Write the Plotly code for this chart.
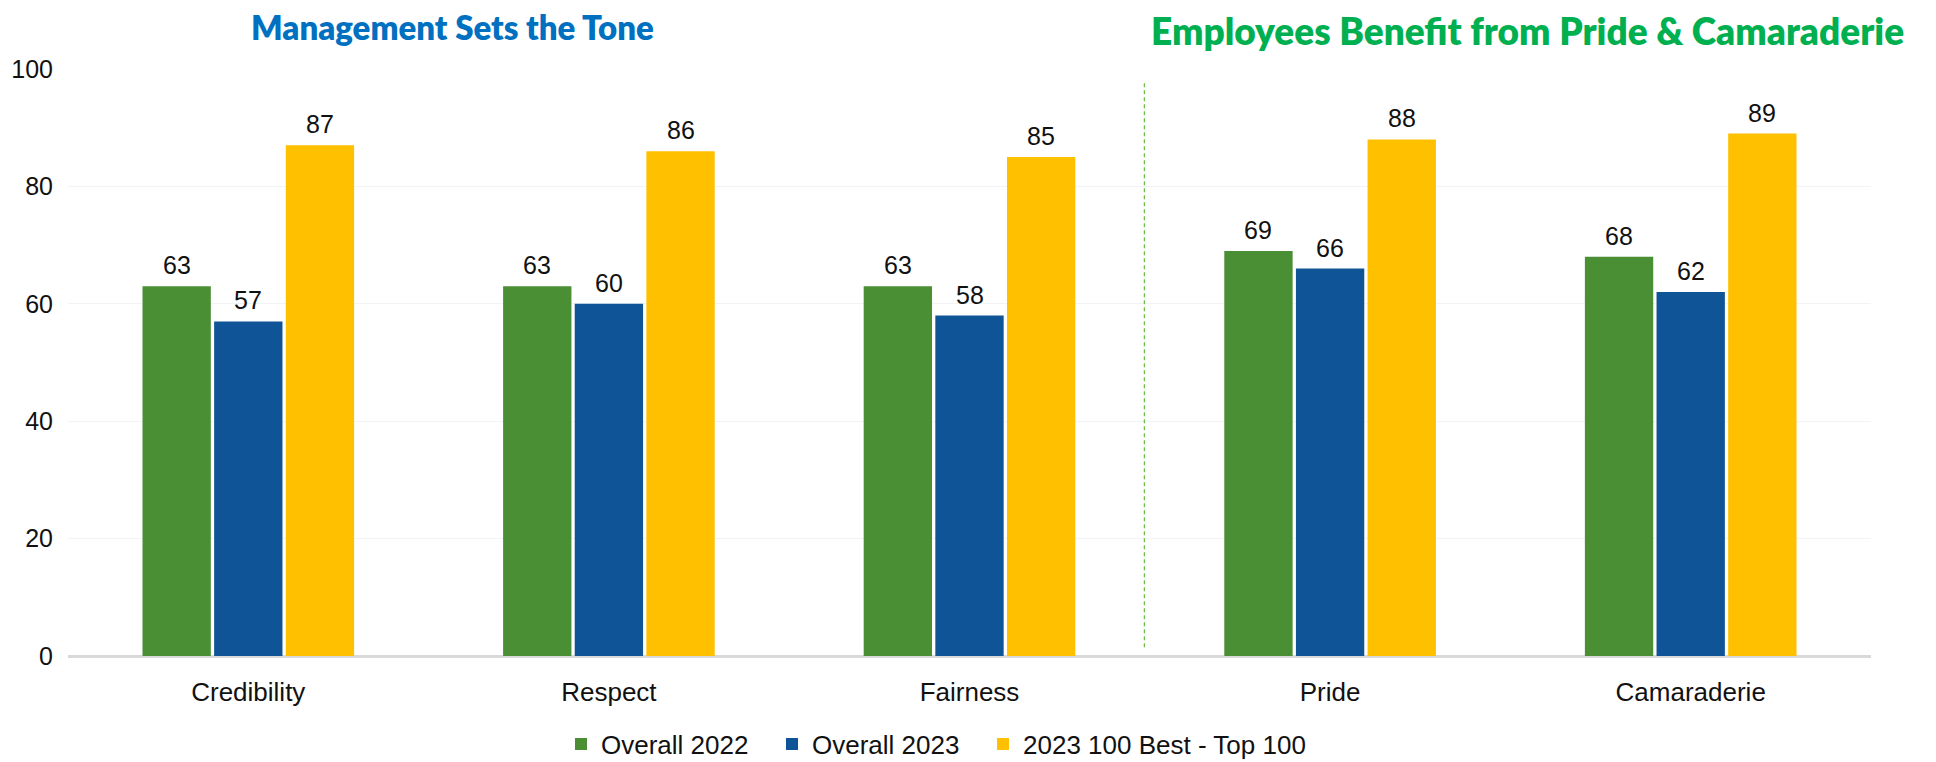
import plotly.graph_objects as go

categories = ["Credibility", "Respect", "Fairness", "Pride", "Camaraderie"]
overall_2022 = [63, 63, 63, 69, 68]
overall_2023 = [57, 60, 58, 66, 62]
best_2023 = [87, 86, 85, 88, 89]
series_names = ["Overall 2022", "Overall 2023", "2023 100 Best - Top 100"]
series_colors = ["#4A8F34", "#0F5496", "#FFC000"]
y_ticks = [0, 20, 40, 60, 80, 100]
title_left = "Management Sets the Tone"
title_right = "Employees Benefit from Pride & Camaraderie"

# the page body adds an 8px offset, so the figure is 8px smaller than the window
W, H = 1928, 754
ml, mr, mt, mb = 60, 65, 61, 106
pw = W - ml - mr
ph = H - mt - mb
BARGAP, BARGROUPGAP = 0.404, 0.046


def px_x(x):
    return (x - ml) / pw


def px_y(y):
    return (H - mb - y) / ph


legend_ids = ["legend", "legend2", "legend3"]
legend_left_px = [553, 764, 975]
all_series = [overall_2022, overall_2023, best_2023]
n_series = len(all_series)

fig = go.Figure()
for name, vals, col, lg in zip(series_names, all_series, series_colors, legend_ids):
    fig.add_trace(go.Bar(
        x=categories, y=vals, name=name, legend=lg,
        marker=dict(color=col, line=dict(width=0)),
        hovertemplate="%{x}: %{y}<extra>" + name + "</extra>",
    ))

# value labels above each bar, placed through the category/value axes
slot = (1 - BARGAP) / n_series
for j, vals in enumerate(all_series):
    offset = (j - (n_series - 1) / 2) * slot
    for i, v in enumerate(vals):
        fig.add_annotation(x=i + offset, y=v, xref="x", yref="y", text=str(v),
                           showarrow=False, yshift=21, xanchor="center", yanchor="middle",
                           font=dict(family="Liberation Sans, Arial", size=25, color="#111111"))

# divider between the two groups of categories
fig.add_shape(type="line", xref="x", yref="y", x0=2.485, x1=2.485, y0=1.5, y1=98,
              line=dict(color="#6DBE45", width=1.3, dash="4px,3px"))

fig.add_annotation(text=title_left, xref="paper", yref="paper",
                   x=px_x(444), y=px_y(19), xanchor="center", yanchor="middle",
                   showarrow=False,
                   font=dict(family="Lato", size=33, color="#0070C0", weight=800))
fig.add_annotation(text=title_right, xref="paper", yref="paper",
                   x=px_x(1519), y=px_y(22), xanchor="center", yanchor="middle",
                   showarrow=False,
                   font=dict(family="Lato", size=37, color="#00B050", weight=800))

legend_common = dict(orientation="h", xref="paper", xanchor="left", yref="container",
                     y=(H - 736) / H, yanchor="middle",
                     font=dict(size=26, color="#111111"), itemwidth=30,
                     bgcolor="rgba(0,0,0,0)")

fig.update_layout(
    width=W, height=H,
    margin=dict(l=ml, r=mr, t=mt, b=mb, autoexpand=False),
    paper_bgcolor="white", plot_bgcolor="white",
    barmode="group", bargap=BARGAP, bargroupgap=BARGROUPGAP,
    font=dict(family="Liberation Sans, Arial", color="#111111"),
    showlegend=True,
    legend=dict(x=px_x(legend_left_px[0]), **legend_common),
    legend2=dict(x=px_x(legend_left_px[1]), **legend_common),
    legend3=dict(x=px_x(legend_left_px[2]), **legend_common),
    xaxis=dict(showgrid=False, showline=False, ticks="", tickfont=dict(size=26),
               ticklabelstandoff=18, zeroline=False, automargin=False),
    yaxis=dict(range=[0, 100], tickvals=y_ticks, showgrid=True, gridcolor="#F0F4F6",
               gridwidth=1, zeroline=True, zerolinecolor="#D9D9D9", zerolinewidth=2.5,
               showline=False, tickfont=dict(size=25), ticklabelstandoff=14,
               automargin=False),
)

fig.write_html("out.html")
